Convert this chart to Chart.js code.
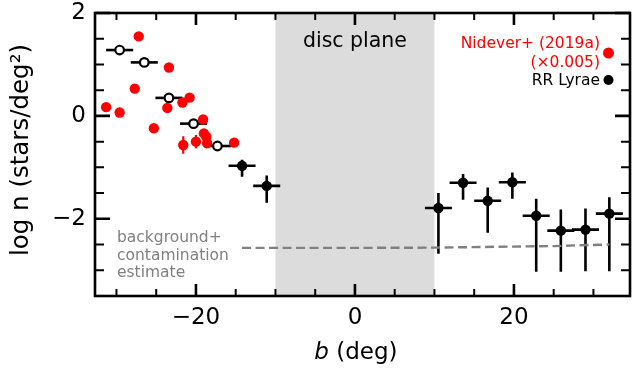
<!DOCTYPE html>
<html>
<head>
<meta charset="utf-8">
<script src="https://cdn.jsdelivr.net/npm/chart.js@4.4.1/dist/chart.umd.min.js"></script>
<style>
html, body { margin: 0; padding: 0; background: #fff; }
</style>
</head>
<body>
<canvas id="densityChart" width="632" height="373"></canvas>
<script>
const FONT = '"DejaVu Sans", sans-serif';

// Nidever+ (2019a), scaled by 0.005
const nideverB = [-31.3, -29.6, -27.7, -27.2, -25.3, -23.6, -23.4, -21.7, -21.6, -20.8, -20.0, -19.1, -19.0, -18.7, -18.6, -15.2];
const nideverLogN = [0.17, 0.065, 0.53, 1.545, -0.24, 0.155, 0.94, 0.26, -0.565, 0.355, -0.50, -0.07, -0.34, -0.405, -0.53, -0.52];
const nideverErr = [0, 0, 0, 0, 0, 0, 0, 0, 0.17, 0, 0.13, 0, 0, 0, 0, 0];

// RR Lyrae, open markers (b < 0)
const rrOpenB = [-29.6, -26.5, -23.4, -20.3, -17.3];
const rrOpenLogN = [1.28, 1.04, 0.35, -0.15, -0.585];

// RR Lyrae, filled markers
const rrFillB = [-14.2, -11.1, 10.5, 13.6, 16.7, 19.8, 22.8, 25.9, 29.0, 32.0];
const rrFillLogN = [-0.97, -1.36, -1.79, -1.30, -1.65, -1.29, -1.94, -2.23, -2.21, -1.90];
const rrFillErrUp = [0.12, 0.20, 0.29, 0.17, 0.26, 0.19, 0.33, 0.41, 0.41, 0.32];
const rrFillErrDown = [0.21, 0.33, 0.89, 0.33, 0.62, 0.32, 1.09, 0.80, 0.81, 1.12];
const binHalfWidth = 1.7;

// background + contamination estimate
const bgB = [-14.2, 0, 10, 19.5, 25, 28, 32];
const bgLogN = [-2.565, -2.565, -2.56, -2.54, -2.53, -2.515, -2.5];

const discRange = [-10, 10];
const xMajor = [-20, 0, 20];
const xMinor = [-30, -25, -15, -10, -5, 5, 10, 15, 25, 30];
const yMajor = [-2, 0, 2];
const yMinor = [-3.5, -3, -2.5, -1.5, -1, -0.5, 0.5, 1, 1.5];

const PLOT_RIGHT = 630;

const toPoints = (xs, ys) => xs.map((x, i) => ({ x: x, y: ys[i] }));
const fmt = v => (v < 0 ? '\u2212' + Math.abs(v) : String(v));

const overlayPlugin = {
    id: 'overlay',
    afterLayout(chart) {
        // stretch the plot to the right frame position of the original
        const x = chart.scales.x;
        const a = chart.chartArea;
        if (x && a.right < PLOT_RIGHT) {
            a.right = PLOT_RIGHT;
            a.width = a.right - a.left;
            x.right = PLOT_RIGHT;
            x.width = x.right - x.left;
            x.configure();
        }
    },
    beforeDatasetsDraw(chart) {
        const { ctx, chartArea: a, scales: { x, y } } = chart;
        ctx.save();
        // disc plane band
        ctx.fillStyle = '#dcdcdc';
        const x0 = x.getPixelForValue(discRange[0]);
        const x1 = x.getPixelForValue(discRange[1]);
        ctx.fillRect(x0, a.top, x1 - x0, a.bottom - a.top);
        ctx.fillStyle = '#000';
        ctx.font = '20.5px ' + FONT;
        ctx.textAlign = 'center';
        ctx.textBaseline = 'middle';
        ctx.fillText('disc plane', (x0 + x1) / 2, 42);

        // annotation
        ctx.fillStyle = '#808080';
        ctx.font = '15.5px ' + FONT;
        ctx.textAlign = 'left';
        ['background+', 'contamination', 'estimate'].forEach((t, i) => {
            ctx.fillText(t, 117, 238 + i * 17.5);
        });

        // error bars, RR Lyrae
        ctx.strokeStyle = '#000';
        ctx.lineWidth = 2.6;
        const bar = (b, v, lo, hi, hw) => {
            ctx.beginPath();
            ctx.moveTo(x.getPixelForValue(b - hw), y.getPixelForValue(v));
            ctx.lineTo(x.getPixelForValue(b + hw), y.getPixelForValue(v));
            ctx.moveTo(x.getPixelForValue(b), y.getPixelForValue(v - lo));
            ctx.lineTo(x.getPixelForValue(b), y.getPixelForValue(v + hi));
            ctx.stroke();
        };
        rrOpenB.forEach((b, i) => bar(b, rrOpenLogN[i], 0, 0, binHalfWidth));
        rrFillB.forEach((b, i) => bar(b, rrFillLogN[i], rrFillErrDown[i], rrFillErrUp[i], binHalfWidth));

        // error bars, Nidever
        ctx.strokeStyle = '#ff0000';
        ctx.lineWidth = 2.2;
        nideverB.forEach((b, i) => {
            if (nideverErr[i] > 0) bar(b, nideverLogN[i], nideverErr[i], nideverErr[i], 0);
        });
        ctx.restore();
    },
    afterDraw(chart) {
        const { ctx, chartArea: a, scales: { x, y } } = chart;
        ctx.save();
        ctx.strokeStyle = '#000';
        const tickX = (vals, len, w) => {
            ctx.lineWidth = w;
            ctx.beginPath();
            vals.forEach(v => {
                const px = x.getPixelForValue(v);
                ctx.moveTo(px, a.bottom); ctx.lineTo(px, a.bottom - len);
                ctx.moveTo(px, a.top); ctx.lineTo(px, a.top + len);
            });
            ctx.stroke();
        };
        const tickY = (vals, len, w) => {
            ctx.lineWidth = w;
            ctx.beginPath();
            vals.forEach(v => {
                const py = y.getPixelForValue(v);
                ctx.moveTo(a.left, py); ctx.lineTo(a.left + len, py);
                ctx.moveTo(a.right, py); ctx.lineTo(a.right - len, py);
            });
            ctx.stroke();
        };
        tickX(xMajor, 12, 2.6);
        tickX(xMinor, 7, 2);
        tickY(yMajor, 15, 2.6);
        tickY(yMinor, 9, 2);

        // frame
        ctx.lineWidth = 2.6;
        ctx.strokeRect(a.left, a.top, a.right - a.left, a.bottom - a.top);

        // legend
        ctx.font = '15.5px ' + FONT;
        ctx.textAlign = 'right';
        ctx.textBaseline = 'middle';
        ctx.fillStyle = '#ff0000';
        ctx.fillText('Nidever+ (2019a)', 600, 44);
        ctx.fillText('(\u00d70.005)', 600, 63);
        ctx.beginPath(); ctx.arc(608.5, 53, 5.5, 0, Math.PI * 2); ctx.fill();
        ctx.fillStyle = '#000';
        ctx.fillText('RR Lyrae', 600, 81);
        ctx.beginPath(); ctx.arc(608.5, 80, 5, 0, Math.PI * 2); ctx.fill();

        // axis titles
        ctx.textAlign = 'left';
        ctx.font = 'italic 23px ' + FONT;
        const bw = ctx.measureText('b').width;
        ctx.font = '23px ' + FONT;
        const rest = ' (deg)';
        const rw = ctx.measureText(rest).width;
        const sx = x.getPixelForValue(0) - (bw + rw) / 2 + 1;
        ctx.font = 'italic 23px ' + FONT;
        ctx.fillText('b', sx, 353);
        ctx.font = '23px ' + FONT;
        ctx.fillText(rest, sx + bw, 353);

        ctx.translate(22, 150);
        ctx.rotate(-Math.PI / 2);
        ctx.textAlign = 'center';
        ctx.font = '24.5px ' + FONT;
        ctx.fillText('log n (stars/deg\u00b2)', 0, 0);
        ctx.restore();
    }
};

new Chart(document.getElementById('densityChart').getContext('2d'), {
    type: 'scatter',
    data: {
        datasets: [
            {
                label: 'Nidever+ (2019a)',
                data: toPoints(nideverB, nideverLogN),
                backgroundColor: '#ff0000',
                borderWidth: 0,
                pointRadius: 5.2,
                order: 0
            },
            {
                label: 'RR Lyrae open',
                data: toPoints(rrOpenB, rrOpenLogN),
                backgroundColor: '#ffffff',
                borderColor: '#000000',
                borderWidth: 2.2,
                pointRadius: 4.3,
                order: 1
            },
            {
                label: 'RR Lyrae',
                data: toPoints(rrFillB, rrFillLogN),
                backgroundColor: '#000000',
                borderWidth: 0,
                pointRadius: 5.2,
                order: 1
            },
            {
                label: 'background+contamination',
                type: 'line',
                data: toPoints(bgB, bgLogN),
                borderColor: '#808080',
                borderWidth: 2.4,
                borderDash: [9, 4.5],
                pointRadius: 0,
                fill: false,
                order: 2
            }
        ]
    },
    options: {
        responsive: false,
        animation: false,
        devicePixelRatio: 1,
        layout: { padding: { left: 0, top: 13, right: 2, bottom: 0 } },
        plugins: { legend: { display: false }, tooltip: { enabled: false } },
        scales: {
            x: {
                type: 'linear',
                min: -32.7,
                max: 34.6,
                grid: { display: false, drawTicks: false },
                border: { display: false },
                afterBuildTicks: s => { s.ticks = xMajor.map(v => ({ value: v })); },
                afterFit: s => { s.height = 77; s.paddingLeft = 0; s.paddingRight = 0; },
                ticks: {
                    color: '#000',
                    font: { family: FONT, size: 23 },
                    padding: 8,
                    maxRotation: 0,
                    callback: v => fmt(v)
                }
            },
            y: {
                type: 'linear',
                min: -3.5,
                max: 2,
                grid: { display: false, drawTicks: false },
                border: { display: false },
                afterBuildTicks: s => { s.ticks = yMajor.map(v => ({ value: v })); },
                afterFit: s => { s.width = 95; s.paddingTop = 0; s.paddingBottom = 0; },
                ticks: {
                    color: '#000',
                    font: { family: FONT, size: 23 },
                    padding: 9,
                    callback: v => fmt(v)
                }
            }
        }
    },
    plugins: [overlayPlugin]
});
</script>
</body>
</html>
